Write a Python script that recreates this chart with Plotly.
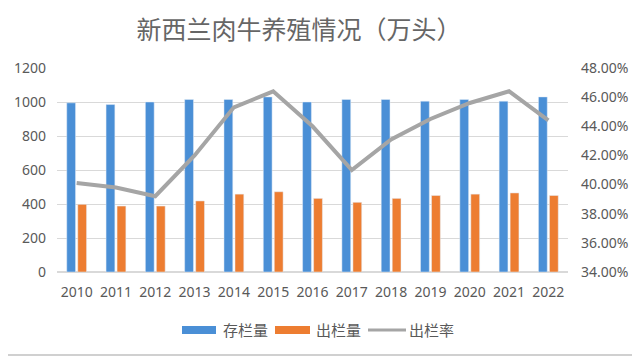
import plotly.graph_objects as go

years = ["2010", "2011", "2012", "2013", "2014", "2015", "2016", "2017", "2018", "2019", "2020", "2021", "2022"]
stock = [995, 985, 1000, 1015, 1015, 1030, 1000, 1015, 1015, 1005, 1015, 1005, 1030]
slaughter = [398, 388, 388, 418, 458, 472, 433, 410, 433, 450, 458, 465, 450]
rate = [40.1, 39.8, 39.2, 42.0, 45.3, 46.4, 44.0, 41.0, 43.1, 44.5, 45.6, 46.4, 44.4]
left_ticks = [0, 200, 400, 600, 800, 1000, 1200]
right_ticks = [34, 36, 38, 40, 42, 44, 46, 48]
series_names = ["存栏量", "出栏量", "出栏率"]
colors = ["#4A8FD6", "#ED7D31", "#A5A5A5"]

txt = "#595959"
W, H = 632, 349
L, R, T, B = 49, 72, 60, 85
PW, PH = W - L - R, H - T - B


def px(x):  # figure pixel -> paper x
    return (x - L) / PW


def py(y):  # figure pixel (from top) -> paper y
    return (H - B - y) / PH


fig = go.Figure()
fig.add_trace(go.Bar(x=years, y=stock, name=series_names[0], marker_color=colors[0], showlegend=False))
fig.add_trace(go.Bar(x=years, y=slaughter, name=series_names[1], marker_color=colors[1], showlegend=False))
fig.add_trace(go.Scatter(x=years, y=rate, name=series_names[2], yaxis="y2", mode="lines",
                         line=dict(color=colors[2], width=4), showlegend=False))

# custom legend (wide swatches as in the reference)
ly = 322
shapes = [
    dict(type="rect", xref="paper", yref="paper", x0=px(174), x1=px(208), y0=py(ly + 4), y1=py(ly - 4),
         fillcolor=colors[0], line=dict(width=0)),
    dict(type="rect", xref="paper", yref="paper", x0=px(267), x1=px(302), y0=py(ly + 4), y1=py(ly - 4),
         fillcolor=colors[1], line=dict(width=0)),
    dict(type="line", xref="paper", yref="paper", x0=px(360), x1=px(398), y0=py(ly), y1=py(ly),
         line=dict(color=colors[2], width=3)),
    # outer frame (right and bottom edges visible)
    dict(type="line", xref="paper", yref="paper", x0=px(W - 3), x1=px(W - 3), y0=py(-10), y1=py(H - 2),
         line=dict(color="#D0D0D0", width=2)),
    dict(type="line", xref="paper", yref="paper", x0=px(-10), x1=px(W - 3), y0=py(H - 2), y1=py(H - 2),
         line=dict(color="#D0D0D0", width=2)),
]
annotations = [
    dict(text=series_names[0], xref="paper", yref="paper", x=px(213), y=py(ly), xanchor="left", yanchor="middle",
         showarrow=False, font=dict(size=15, color=txt)),
    dict(text=series_names[1], xref="paper", yref="paper", x=px(306), y=py(ly), xanchor="left", yanchor="middle",
         showarrow=False, font=dict(size=15, color=txt)),
    dict(text=series_names[2], xref="paper", yref="paper", x=px(399), y=py(ly), xanchor="left", yanchor="middle",
         showarrow=False, font=dict(size=15, color=txt)),
]

fig.update_layout(
    width=W, height=H,
    margin=dict(l=L, r=R, t=T, b=B, autoexpand=False),
    paper_bgcolor="white", plot_bgcolor="white",
    title=dict(text="新西兰肉牛养殖情况（万头）", x=291 / W, xanchor="center", y=1 - 22 / H, yanchor="middle",
               xref="container", yref="container",
               font=dict(family="Noto Sans CJK SC", size=25, color="#666666")),
    barmode="group", bargap=0.44, bargroupgap=0.2,
    font=dict(family="Noto Sans, Noto Sans CJK SC, sans-serif", size=14, color=txt),
    xaxis=dict(showgrid=False, showline=False, ticks="", ticklabelstandoff=10, automargin=False,
               tickfont=dict(size=14, color=txt)),
    yaxis=dict(range=[0, 1200], tickvals=left_ticks, showgrid=True, gridcolor="#D9D9D9",
               gridwidth=1, zeroline=True, zerolinecolor="#D9D9D9", ticks="", ticklabelstandoff=10,
               automargin=False, tickfont=dict(size=14, color=txt)),
    yaxis2=dict(range=[34, 48], tickvals=right_ticks, ticktext=[f"{v:.2f}%" for v in right_ticks],
                overlaying="y", side="right", showgrid=False, zeroline=False, ticks="",
                ticklabelstandoff=12, automargin=False, tickfont=dict(size=14, color=txt)),
    showlegend=False,
    shapes=shapes,
    annotations=annotations,
)

fig.write_html("out.html")
